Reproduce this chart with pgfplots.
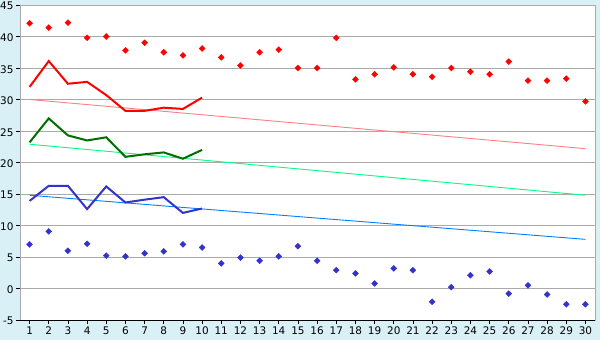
\documentclass[border=0pt]{standalone}
\usepackage{pgfplots}
\pgfplotsset{compat=1.18}
\usepackage{fontspec}
\newfontfamily\tickfont{DejaVu Sans}
\definecolor{bgblue}{RGB}{217,240,247}
\definecolor{gridgray}{RGB}{170,170,170}
\definecolor{maxred}{RGB}{255,0,0}
\definecolor{trendred}{RGB}{255,128,128}
\definecolor{darkgreen}{RGB}{0,110,0}
\definecolor{trendgreen}{RGB}{0,255,128}
\definecolor{minblue}{RGB}{51,51,204}
\definecolor{trendblue}{RGB}{0,128,255}
\begin{document}
\begin{tikzpicture}
\fill[bgblue] (0,0) rectangle (600bp,340bp);
\useasboundingbox (0,0) rectangle (600bp,340bp);
\begin{axis}[
  at={(20bp,20bp)}, anchor=south west,
  scale only axis, width=575bp, height=315bp,
  xmin=0.5, xmax=30.5, ymin=-5, ymax=45,
  axis background/.style={fill=white},
  axis line style={draw=gridgray, line width=0.8bp},
  xtick={1,...,30},
  ytick={-5,0,5,10,15,20,25,30,35,40,45},
  yticklabels={-5,0,5,10,15,20,25,30,35,40,45},
  xtick pos=lower, ytick pos=left,
  tick align=outside,
  major tick length=4bp,
  tick style={black, line width=0.8bp},
  ymajorgrids,
  grid style={gridgray, line width=0.8bp},
  /pgf/number format/assume math mode=true,
  tick label style={font=\tickfont\fontsize{10.5}{12}\selectfont},
  yticklabel style={xshift=1bp, yshift=-1.2bp},
  xticklabel style={yshift=1bp},
  clip=false,
]
\draw[black, line width=0.8bp] (axis cs:0.5,-5) -- (axis cs:30.5,-5);
% trend lines
\addplot[trendred, line width=0.9bp] coordinates {(1,30.0) (30,22.2)};
\addplot[trendgreen, line width=0.9bp] coordinates {(1,22.9) (30,14.8)};
\addplot[trendblue, line width=0.9bp] coordinates {(1,14.8) (30,7.8)};
% average lines
\addplot[maxred, line width=2bp] coordinates {
(1,32.0) (2,36.1) (3,32.5) (4,32.8) (5,30.7) (6,28.2) (7,28.2) (8,28.7) (9,28.5) (10,30.3)};
\addplot[darkgreen, line width=2bp] coordinates {
(1,23.2) (2,27.0) (3,24.3) (4,23.5) (5,24.0) (6,20.9) (7,21.3) (8,21.6) (9,20.6) (10,22.0)};
\addplot[minblue, line width=2bp] coordinates {
(1,13.9) (2,16.3) (3,16.3) (4,12.6) (5,16.2) (6,13.65) (7,14.1) (8,14.5) (9,12.0) (10,12.7)};
% max points
\addplot[only marks, mark=square*, mark size=2.1bp, color=maxred, mark options={rotate=45, draw=maxred, fill=maxred}] coordinates {
(1,42.1) (2,41.4) (3,42.2) (4,39.8) (5,40.0) (6,37.8) (7,39.0) (8,37.5) (9,37.0) (10,38.1)
(11,36.7) (12,35.4) (13,37.5) (14,37.9) (15,35.0) (16,35.0) (17,39.8) (18,33.2) (19,34.0) (20,35.1)
(21,34.0) (22,33.6) (23,35.0) (24,34.4) (25,34.0) (26,36.0) (27,33.0) (28,33.0) (29,33.3) (30,29.7)};
% min points
\addplot[only marks, mark=square*, mark size=2.1bp, color=minblue, mark options={rotate=45, draw=minblue, fill=minblue}] coordinates {
(1,7.0) (2,9.05) (3,6.0) (4,7.1) (5,5.2) (6,5.1) (7,5.6) (8,5.9) (9,7.0) (10,6.5)
(11,4.0) (12,4.9) (13,4.4) (14,5.1) (15,6.7) (16,4.4) (17,2.9) (18,2.4) (19,0.8) (20,3.2)
(21,2.9) (22,-2.1) (23,0.2) (24,2.1) (25,2.7) (26,-0.8) (27,0.5) (28,-0.95) (29,-2.5) (30,-2.5)};
\end{axis}
\end{tikzpicture}
\end{document}
